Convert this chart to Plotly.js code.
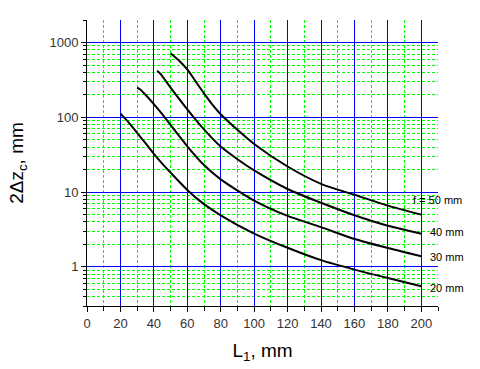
<!DOCTYPE html>
<html><head><meta charset="utf-8">
<script src="https://cdn.plot.ly/plotly-3.0.1.min.js"></script>
<style>html,body{margin:0;padding:0;background:#fff}#c{width:480px;height:369px}</style>
</head><body><div id="c"></div>
<script>
const L20 = [20, 25, 30, 35, 40, 45, 50, 60, 70, 80, 100, 120, 140, 160, 180, 200];
const Z20 = [112, 85, 62, 45, 32.4, 24, 18.2, 10.7, 6.9, 4.9, 2.79, 1.8, 1.23, 0.92, 0.71, 0.55];
const L30 = [30, 32, 35, 40, 45, 50, 60, 70, 80, 100, 120, 140, 160, 180, 200];
const Z30 = [250, 234, 200, 150, 110, 79, 41, 23, 14.8, 7.7, 4.8, 3.4, 2.36, 1.79, 1.39];
const L40 = [42, 44, 50, 60, 70, 80, 90, 100, 120, 140, 160, 180, 200];
const Z40 = [420, 380, 250, 128, 69, 40.6, 27.5, 19.5, 11, 7.2, 4.9, 3.55, 2.78];
const L50 = [50, 55, 60, 65, 70, 75, 80, 90, 100, 120, 140, 160, 180, 200];
const Z50 = [720, 575, 437, 302, 209, 148, 110, 68, 44, 22, 12.9, 9.2, 6.6, 5.0];
const labels = ["f = 50 mm", "40 mm", "30 mm", "20 mm"];
const labelX = [193.8, 203.8, 203.8, 203.8];
const labelY = [7.8, 2.9, 1.36, 0.53];
const xTicks = [0, 20, 40, 60, 80, 100, 120, 140, 160, 180, 200];
const yTicks = [1, 10, 100, 1000];
const yMinor = [0.3, 0.4, 0.5, 0.6, 0.7, 0.8, 0.9, 2, 3, 4, 5, 6, 7, 8, 9,
  20, 30, 40, 50, 60, 70, 80, 90, 200, 300, 400, 500, 600, 700, 800, 900, 2000];

const series = [[L50, Z50], [L40, Z40], [L30, Z30], [L20, Z20]];
const traces = series.map(s => ({
  x: s[0], y: s[1], type: 'scatter', mode: 'lines',
  line: {color: '#000', width: 2, shape: 'spline', smoothing: 0.7},
  hoverinfo: 'none', showlegend: false
}));

const ff = 'Liberation Sans, Arial, sans-serif';
const tickFont = {family: ff, size: 13, color: '#333'};
const minorGrid = {showgrid: true, gridcolor: '#00ff00', griddash: '3px,2px', gridwidth: 1, tickcolor: '#000', ticks: 'outside'};
const layout = {
  width: 480, height: 369,
  margin: {l: 87, r: 42, t: 20, b: 63},
  paper_bgcolor: '#fff', plot_bgcolor: '#fff',
  showlegend: false,
  xaxis: {
    range: [0, 210], tickmode: 'array', tickvals: xTicks, ticktext: xTicks.map(String),
    showline: true, linecolor: '#000', linewidth: 1,
    ticks: 'outside', ticklen: 5, tickcolor: '#000',
    showgrid: true, gridcolor: '#0000ff', gridwidth: 1, zeroline: false,
    tickfont: tickFont,
    minor: Object.assign({tickmode: 'linear', tick0: 0, dtick: 10, ticklen: 4}, minorGrid),
    title: {text: 'L<sub>1</sub>, mm', font: {family: ff, size: 19, color: '#000'}, standoff: 14}
  },
  yaxis: {
    type: 'log', range: [Math.log10(0.3), Math.log10(2000)],
    tickmode: 'array', tickvals: yTicks, ticktext: yTicks.map(String),
    showline: true, linecolor: '#000', linewidth: 1,
    ticks: 'outside', ticklen: 5, tickcolor: '#000',
    showgrid: true, gridcolor: '#0000ff', gridwidth: 1, zeroline: false,
    tickfont: tickFont,
    minor: Object.assign({tickmode: 'array', tickvals: yMinor, ticklen: 3}, minorGrid),
    title: {text: '2Δz<sub>c</sub>, mm', font: {family: ff, size: 19, color: '#000'}, standoff: 20}
  },
  annotations: labels.map((t, i) => ({
    x: labelX[i], y: Math.log10(labelY[i]), xref: 'x', yref: 'y',
    text: t, showarrow: false, xanchor: 'left', yanchor: 'middle',
    font: {family: ff, size: 11, color: '#000'}
  }))
};
Plotly.newPlot('c', traces, layout, {staticPlot: true, displayModeBar: false});
</script></body></html>
